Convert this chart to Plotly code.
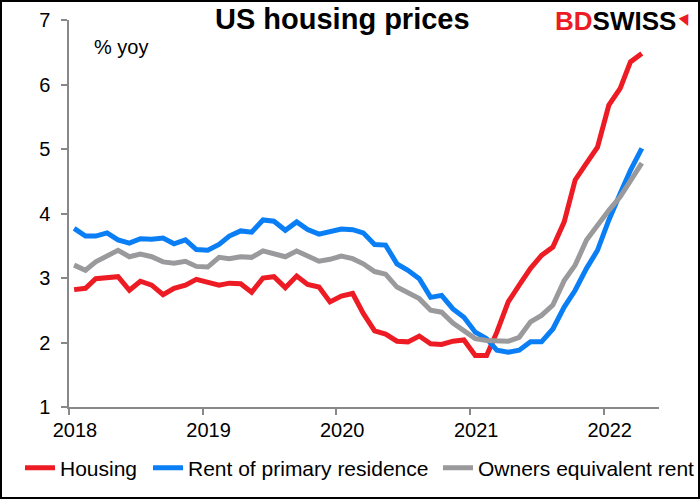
import plotly.graph_objects as go
import pandas as pd

# Monthly data, Jan 2018 - Apr 2022 (% yoy)
start_month = "2018-01-01"
n_months = 52

housing = [2.82, 2.84, 2.99, 3.00, 3.02, 2.81, 2.95, 2.89, 2.74, 2.84, 2.89, 2.98,
           2.94, 2.89, 2.92, 2.91, 2.78, 3.00, 3.02, 2.85, 3.03, 2.90, 2.86, 2.63,
           2.72, 2.76, 2.45, 2.18, 2.13, 2.02, 2.01, 2.10, 1.98, 1.97, 2.02, 2.04,
           1.80, 1.80, 2.16, 2.63, 2.89, 3.15, 3.35, 3.48, 3.87, 4.52, 4.78, 5.03,
           5.68, 5.94, 6.35, 6.48]

rent = [3.77, 3.65, 3.65, 3.70, 3.59, 3.54, 3.61, 3.60, 3.62, 3.53, 3.59, 3.44,
        3.43, 3.52, 3.65, 3.73, 3.71, 3.90, 3.88, 3.74, 3.87, 3.75, 3.68, 3.71,
        3.76, 3.75, 3.70, 3.52, 3.51, 3.22, 3.12, 2.99, 2.70, 2.73, 2.52, 2.39,
        2.16, 2.06, 1.88, 1.85, 1.88, 2.01, 2.01, 2.21, 2.55, 2.81, 3.15, 3.43,
        3.90, 4.31, 4.67, 5.01]

oer = [3.20, 3.12, 3.25, 3.35, 3.43, 3.33, 3.37, 3.33, 3.25, 3.23, 3.26, 3.18,
       3.17, 3.32, 3.30, 3.33, 3.32, 3.42, 3.38, 3.33, 3.42, 3.34, 3.26, 3.29,
       3.34, 3.30, 3.22, 3.10, 3.06, 2.86, 2.78, 2.68, 2.50, 2.47, 2.30, 2.19,
       2.06, 2.03, 2.02, 2.02, 2.08, 2.32, 2.42, 2.58, 2.96, 3.20, 3.59, 3.82,
       4.05, 4.26, 4.52, 4.78]

years = ["2018", "2019", "2020", "2021", "2022"]

# points sit in the middle of each month
dates = pd.date_range(start_month, periods=n_months, freq="MS") + pd.Timedelta(days=14)

# plot area in window pixels: x 69..659, y 20..407
def px(x):
    return (x - 69) / 590

def py(y):
    return (407 - y) / 387

# one legend per series so each entry can sit where the reference has it
series = [
    ("Housing", housing, "#ED1C24", "legend", 20),
    ("Rent of primary residence", rent, "#0A7EF5", "legend2", 148),
    ("Owners equivalent rent", oer, "#9A9A9C", "legend3", 438),
]

fig = go.Figure()
legends = {}
for name, vals, col, leg, lx in series:
    fig.add_trace(go.Scatter(x=dates, y=vals, name=name, mode="lines",
                             line=dict(color=col, width=5), legend=leg))
    legends[leg] = dict(orientation="h", x=px(lx), xanchor="left",
                        y=py(468), yanchor="middle", font=dict(size=21),
                        bgcolor="rgba(0,0,0,0)", borderwidth=0)

axis_col = "#888888"
font = "Liberation Sans, Arial, sans-serif"

# figure is 2px smaller on each side: the page padding around it forms the black frame
fig.update_layout(
    width=696, height=495,
    margin=dict(l=67, r=39, t=18, b=90, autoexpand=False),
    plot_bgcolor="white", paper_bgcolor="white",
    font=dict(family=font, size=20, color="black"),
    showlegend=True,
    **legends,
)

fig.update_xaxes(
    type="date", range=["2018-01-01", "2022-06-01"],
    tickmode="array", tickvals=[y + "-01-01" for y in years], ticktext=years,
    ticks="outside", ticklen=6, tickwidth=1.5, tickcolor=axis_col,
    ticklabelshift=6, ticklabelstandoff=-2,
    showline=True, linecolor=axis_col, linewidth=1.5,
    showgrid=False, zeroline=False,
)
fig.update_yaxes(
    range=[1, 7], dtick=1,
    ticks="outside", ticklen=6, tickwidth=1.5, tickcolor=axis_col,
    ticklabelstandoff=7,
    showline=True, linecolor=axis_col, linewidth=1.5,
    showgrid=False, zeroline=False,
)

# title, unit label and logo
fig.add_annotation(text="<b>US housing prices</b>", xref="paper", yref="paper",
                   x=px(342), y=py(19), xanchor="center", yanchor="middle",
                   showarrow=False, font=dict(size=29))
fig.add_annotation(text="% yoy", xref="paper", yref="paper",
                   x=px(92), y=py(47), xanchor="left", yanchor="middle",
                   showarrow=False, font=dict(size=20))
fig.add_annotation(text="<b><span style='color:#ED1C24'>BD</span>SWISS</b>",
                   xref="paper", yref="paper", x=px(678), y=py(21),
                   xanchor="right", yanchor="middle", showarrow=False,
                   font=dict(size=26, color="black"))
fig.add_annotation(text="▼", xref="paper", yref="paper", x=px(685), y=py(20),
                   xanchor="center", yanchor="middle", showarrow=False,
                   textangle=-25,
                   font=dict(size=14, color="#ED1C24", family="DejaVu Sans"))

# no page margin; 2px black page padding around the figure
page_js = (
    "document.body.style.margin='0';"
    "document.body.style.padding='2px';"
    "document.body.style.background='black';"
)
fig.write_html("out.html", config={"displayModeBar": False}, post_script=page_js)
